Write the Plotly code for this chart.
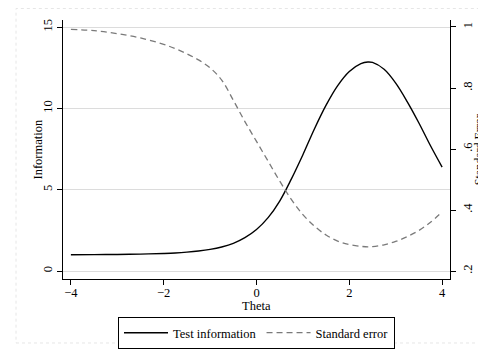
import plotly.graph_objects as go

theta = [-4, -3.5, -3, -2.5, -2, -1.75, -1.5, -1.25, -1, -0.75, -0.5, -0.25, 0, 0.25, 0.5, 0.75, 1.0,
         1.25, 1.5, 1.75, 2.0, 2.25, 2.4, 2.5, 2.75, 3.0, 3.25, 3.5, 3.75, 4.0]
test_info = [1.0, 1.01, 1.02, 1.04, 1.08, 1.11, 1.16, 1.23, 1.33, 1.48, 1.7, 2.05, 2.55, 3.28, 4.3, 5.65, 7.15,
             8.75, 10.2, 11.4, 12.27, 12.75, 12.85, 12.82, 12.4, 11.55, 10.4, 9.1, 7.7, 6.39]
std_err = [0.992, 0.988, 0.978, 0.964, 0.943, 0.929, 0.912, 0.892, 0.866, 0.826, 0.76, 0.69, 0.625, 0.56, 0.495,
           0.435, 0.385, 0.347, 0.318, 0.298, 0.287, 0.281, 0.279, 0.28, 0.286, 0.297, 0.313, 0.333, 0.36, 0.394]

x_ticks = [-4, -2, 0, 2, 4]
y_ticks = [0, 5, 10, 15]
y2_ticks = [0.2, 0.4, 0.6, 0.8, 1.0]
y2_labels = [".2", ".4", ".6", ".8", "1"]

font = "Liberation Serif"
fs = 12.5

fig = go.Figure()
fig.add_trace(go.Scatter(x=theta, y=test_info, mode="lines", name="Test information",
                         line=dict(color="black", width=1.4, shape="spline")))
fig.add_trace(go.Scatter(x=theta, y=std_err, mode="lines", name="Standard error", yaxis="y2",
                         line=dict(color="#7a7a7a", width=1.3, dash="6px,4px", shape="spline")))

axis_common = dict(showline=True, linecolor="black", linewidth=1, ticks="outside", ticklen=5,
                   tickcolor="black", zeroline=False, automargin=False, tickfont=dict(size=fs))

fig.update_layout(
    width=478, height=343,
    margin=dict(l=55, r=36, t=12, b=72, autoexpand=False),
    paper_bgcolor="white", plot_bgcolor="white",
    font=dict(family=font, size=fs, color="black"),
    showlegend=True,
    legend=dict(orientation="h", x=0.5, xanchor="center", y=-0.147, yanchor="top",
                bordercolor="black", borderwidth=1, font=dict(size=fs, family=font),
                itemwidth=44, tracegroupgap=0),
    xaxis=dict(range=[-4.17, 4.17], tickvals=x_ticks, showgrid=False, ticklabelstandoff=-3, **axis_common),
    yaxis=dict(range=[-0.49, 15.43], tickvals=y_ticks, tickangle=-90,
               showgrid=True, gridcolor="#dcdcdc", gridwidth=1, **axis_common),
    yaxis2=dict(range=[0.1739, 1.0229], tickvals=y2_ticks, ticktext=y2_labels, overlaying="y", side="right",
                tickangle=-90, showgrid=False, ticklabelstandoff=1, **axis_common),
    annotations=[
        dict(text="Information", xref="paper", yref="paper", x=-0.0646, y=0.5, textangle=-90,
             showarrow=False, xanchor="center", yanchor="middle", font=dict(size=fs)),
        dict(text="Standard Error", xref="paper", yref="paper", x=1.074, y=0.5, textangle=-90,
             showarrow=False, xanchor="center", yanchor="middle", font=dict(size=12)),
        dict(text="Theta", xref="paper", yref="paper", x=0.5, y=-0.104,
             showarrow=False, xanchor="center", yanchor="middle", font=dict(size=fs)),
    ],
    shapes=[dict(type="rect", xref="paper", yref="paper", x0=-0.1214, x1=1.1, y0=-0.247, y1=1.0444,
                 line=dict(color="#e6e6e6", width=1, dash="dot"), layer="below")],
)

fig.write_html("out.html")
